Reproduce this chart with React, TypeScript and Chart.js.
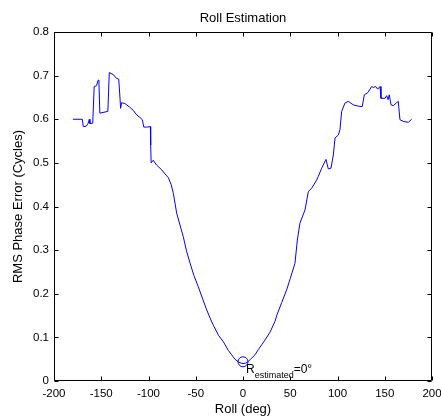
import React, { useEffect, useRef } from "react";
import { Chart, registerables } from "chart.js";

Chart.register(...registerables);

// ---- data ----
const rollDeg = [
  -180, -170, -169, -166, -164, -162.6, -162, -159, -157.5, -155, -153.5, -152.5, -151.5, -143,
  -141.5, -137, -134, -131.5, -130.5, -129.5, -128.5, -125, -120, -116, -112.5, -109, -106.5,
  -105, -102, -98, -97.7, -97.2, -95, -91.5, -86, -81.5, -79, -76, -73.7, -70.2, -67, -63.2, -60,
  -56, -52, -47.3, -43, -38.4, -34, -31.4, -26, -20.8, -15.5, -12, -8.5, -5, -2, 0, 3, 5.6, 8,
  12.7, 16.2, 19.8, 23.3, 28.6, 33.9, 36, 41, 46.2, 50, 55, 57.5, 60.3, 65.6, 69.1, 72.7, 78,
  79.7, 83.3, 87.8, 90.3, 93.1, 95.6, 97.4, 100.9, 102.6, 104.4, 107.9, 111.4, 116.7, 122, 126.2,
  128.4, 132, 136.2, 138, 140.4, 142.5, 145, 146, 150.3, 152, 153.5, 154.8, 156.6, 159, 162.6,
  164.3, 166.1, 169.6, 174.9, 178.5,
];
const rmsError = [
  0.6, 0.6, 0.583, 0.584, 0.59, 0.6, 0.59, 0.591, 0.675, 0.677, 0.689, 0.69, 0.614, 0.618,
  0.707, 0.702, 0.694, 0.692, 0.66, 0.625, 0.638, 0.636, 0.628, 0.62, 0.61, 0.604, 0.599,
  0.582, 0.582, 0.583, 0.541, 0.5, 0.506, 0.495, 0.484, 0.472, 0.466, 0.45, 0.43, 0.385, 0.36,
  0.331, 0.3, 0.27, 0.242, 0.216, 0.19, 0.163, 0.14, 0.128, 0.105, 0.09, 0.07, 0.06, 0.05, 0.044,
  0.041, 0.04, 0.041, 0.045, 0.05, 0.06, 0.072, 0.083, 0.094, 0.112, 0.137, 0.152, 0.18, 0.209,
  0.235, 0.27, 0.323, 0.362, 0.392, 0.434, 0.442, 0.461, 0.469, 0.488, 0.508, 0.486, 0.488,
  0.518, 0.557, 0.564, 0.576, 0.618, 0.637, 0.641, 0.633, 0.63, 0.629, 0.656, 0.661, 0.675,
  0.673, 0.675, 0.669, 0.675, 0.648, 0.648, 0.654, 0.645, 0.656, 0.633, 0.631, 0.638, 0.641,
  0.599, 0.595, 0.593, 0.6,
];
const estRoll = [0];
const estError = [0.044];

const xTicks = [-200, -150, -100, -50, 0, 50, 100, 150, 200];
const xTickLabels = ["-200", "-150", "-100", "-50", "0", "50", "100", "150", "200"];
const yTicks = [0, 0.1, 0.2, 0.3, 0.4, 0.5, 0.6, 0.7, 0.8];
const yTickLabels = ["0", "0.1", "0.2", "0.3", "0.4", "0.5", "0.6", "0.7", "0.8"];

const titleText = "Roll Estimation";
const xLabelText = "Roll (deg)";
const yLabelText = "RMS Phase Error (Cycles)";
const annoMain = "R";
const annoSub = "estimated";
const annoTail = "=0°";

const FONT = '"Liberation Sans", Arial, sans-serif';

const framePlugin = {
  id: "matlabFrame",
  afterDraw(chart: any) {
    const { ctx, chartArea: a, scales } = chart;
    const xs = scales.x;
    const ys = scales.y;
    ctx.save();
    ctx.strokeStyle = "#000";
    ctx.lineWidth = 1;
    const L = Math.round(a.left) + 0.5;
    const R = Math.round(a.right) - 0.5;
    const T = Math.round(a.top) + 0.5;
    const B = Math.round(a.bottom) - 0.5;
    ctx.beginPath();
    ctx.rect(L, T, R - L, B - T);
    const tl = 4;
    xTicks.forEach((v) => {
      const px = Math.round(xs.getPixelForValue(v)) + 0.5;
      ctx.moveTo(px, B);
      ctx.lineTo(px, B - tl);
      ctx.moveTo(px, T);
      ctx.lineTo(px, T + tl);
    });
    yTicks.forEach((v) => {
      const py = Math.round(ys.getPixelForValue(v)) + 0.5;
      ctx.moveTo(L, py);
      ctx.lineTo(L + tl, py);
      ctx.moveTo(R, py);
      ctx.lineTo(R - tl, py);
    });
    ctx.stroke();

    ctx.fillStyle = "#000";
    const cx = (a.left + a.right) / 2;
    // title
    ctx.font = `13px ${FONT}`;
    ctx.textAlign = "center";
    ctx.textBaseline = "alphabetic";
    ctx.fillText(titleText, cx, 22);
    // x label
    ctx.fillText(xLabelText, cx, 413);
    // y label
    ctx.save();
    ctx.translate(22, (a.top + a.bottom) / 2);
    ctx.rotate(-Math.PI / 2);
    ctx.fillText(yLabelText, 0, 0);
    ctx.restore();

    // annotation
    const mx = xs.getPixelForValue(estRoll[0]);
    const my = ys.getPixelForValue(estError[0]);
    let tx = mx + 3;
    const by = my + 11;
    ctx.textAlign = "left";
    ctx.font = `12px ${FONT}`;
    ctx.fillText(annoMain, tx, by);
    tx += ctx.measureText(annoMain).width;
    ctx.font = `9px ${FONT}`;
    ctx.fillText(annoSub, tx, by + 5);
    tx += ctx.measureText(annoSub).width;
    ctx.font = `12px ${FONT}`;
    ctx.fillText(annoTail, tx, by);
    ctx.restore();
  },
};

export default function App() {
  const ref = useRef<HTMLCanvasElement>(null);
  useEffect(() => {
    if (!ref.current) return;
    const curve = rollDeg.map((x, i) => ({ x, y: rmsError[i] }));
    const est = estRoll.map((x, i) => ({ x, y: estError[i] }));
    const chart = new Chart(ref.current, {
      type: "scatter",
      data: {
        datasets: [
          {
            data: curve,
            showLine: true,
            borderColor: "#0000ff",
            borderWidth: 1,
            pointRadius: 0,
            tension: 0,
          },
          {
            data: est,
            showLine: false,
            borderColor: "#0000ff",
            backgroundColor: "rgba(0,0,0,0)",
            borderWidth: 1,
            pointRadius: 5,
            pointStyle: "circle",
          },
        ],
      },
      options: {
        animation: false,
        responsive: false,
        devicePixelRatio: 1,
        layout: { padding: { top: 32, right: 9, left: 0, bottom: 0 } },
        plugins: { legend: { display: false }, tooltip: { enabled: false }, title: { display: false } },
        scales: {
          x: {
            type: "linear",
            min: -200,
            max: 200,
            grid: { display: false, drawTicks: false },
            border: { display: false },
            afterBuildTicks: (s: any) => {
              s.ticks = xTicks.map((v) => ({ value: v }));
            },
            afterFit: (s: any) => {
              s.height = 38;
              s.paddingLeft = 0;
              s.paddingRight = 0;
            },
            ticks: {
              autoSkip: false,
              maxRotation: 0,
              padding: 6,
              color: "#000",
              font: { family: FONT, size: 11.5 },
              callback: (_v: any, i: number) => xTickLabels[i],
            },
          },
          y: {
            type: "linear",
            min: 0,
            max: 0.8,
            grid: { display: false, drawTicks: false },
            border: { display: false },
            afterBuildTicks: (s: any) => {
              s.ticks = yTicks.map((v) => ({ value: v }));
            },
            afterFit: (s: any) => {
              s.width = 54;
              s.paddingTop = 0;
              s.paddingBottom = 0;
            },
            ticks: {
              autoSkip: false,
              padding: 5,
              color: "#000",
              font: { family: FONT, size: 11.5 },
              callback: (_v: any, i: number) => yTickLabels[i],
            },
          },
        },
      },
      plugins: [framePlugin],
    });
    return () => chart.destroy();
  }, []);
  return (
    <div style={{ position: "absolute", left: 0, top: 0, width: 441, height: 419, background: "#fff" }}>
      <canvas ref={ref} width={441} height={419} style={{ width: 441, height: 419 }} />
    </div>
  );
}
